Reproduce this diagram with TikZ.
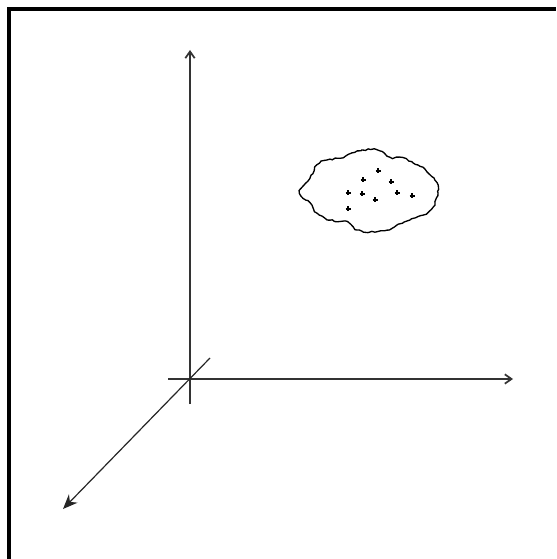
\documentclass[tikz,border=0pt]{standalone}
\usetikzlibrary{arrows.meta,decorations.pathmorphing}
\begin{document}
\begin{tikzpicture}[x=0.75pt,y=-0.75pt,
  axis/.style={draw=black!80,line width=1.3pt},
  diag/.style={draw=black!85,line width=0.9pt},
  frameline/.style={draw=black,line width=2.4pt},
  blob/.style={draw=black,line width=1pt},
  pt/.style={draw=black,line width=0.9pt}]
\useasboundingbox (0,0) rectangle (556,559);
% frame (top and left only)
\draw[frameline] (9,559) -- (9,9) -- (556,9);
% axes
\coordinate (o) at (190,379);
\coordinate (ytop) at (190,50);
\coordinate (ybot) at (190,404);
\coordinate (xl) at (168,379);
\coordinate (xr) at (513,379);
\coordinate (zs) at (210,358);
\coordinate (ze) at (63,509);
\draw[axis,-{Straight Barb[length=5pt,width=7pt]}] (ybot) -- (ytop);
\draw[axis,-{Straight Barb[length=5pt,width=7pt]}] (xl) -- (xr);
\draw[diag,-{Stealth[length=11pt,width=9pt]}] (zs) -- (ze);
% blob
\draw[blob,decorate,decoration={random steps,segment length=2.2pt,amplitude=0.7pt}]
  plot[smooth cycle,tension=0.6] coordinates {
  (300,193) (310,178) (317,165) (327,160) (340,158) (352,153) (362,150)
  (377,150) (390,157) (403,158) (418,165) (427,172) (437,183) (438,193)
  (433,207) (423,215) (410,220) (397,225) (387,230) (370,232) (357,230)
  (347,222) (330,220) (317,213) (310,203)};
% points
\foreach \px/\py in {378/171,363/180,391/182,348/193,362/194,397/193,412/196,375/200,348/209}{
  \draw[pt] (\px-2.5,\py) -- (\px+2.5,\py);
  \draw[pt] (\px,\py-2.5) -- (\px,\py+2.5);
}
\end{tikzpicture}
\end{document}
